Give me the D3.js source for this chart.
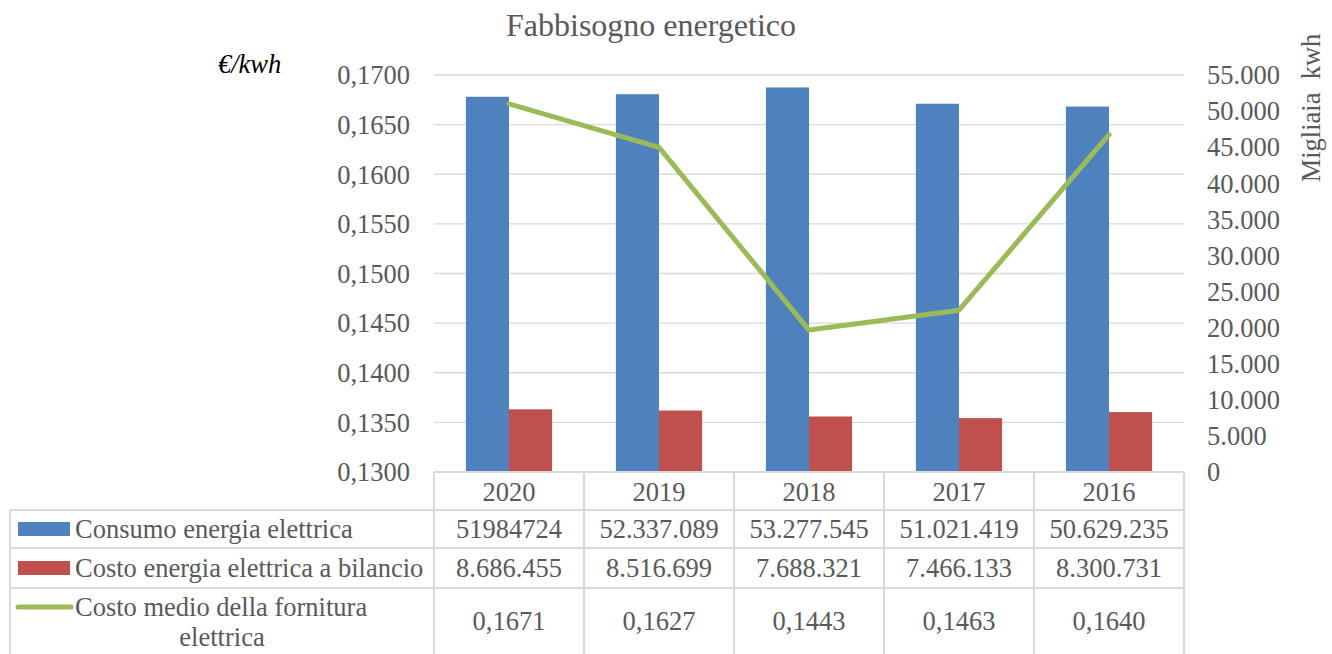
<!DOCTYPE html>
<html>
<head>
<meta charset="utf-8">
<script src="https://cdn.jsdelivr.net/npm/d3@7"></script>
</head>
<body style="margin:0">
<svg id="chart" width="1332" height="654" font-family="Liberation Serif"></svg>
<script>
var years = ["2020", "2019", "2018", "2017", "2016"];
var consumo = [51984724, 52337089, 53277545, 51021419, 50629235];
var costo = [8686455, 8516699, 7688321, 7466133, 8300731];
var costoMedio = [0.1671, 0.1627, 0.1443, 0.1463, 0.1640];
var consumoLabels = ["51984724", "52.337.089", "53.277.545", "51.021.419", "50.629.235"];
var costoLabels = ["8.686.455", "8.516.699", "7.688.321", "7.466.133", "8.300.731"];
var costoMedioLabels = ["0,1671", "0,1627", "0,1443", "0,1463", "0,1640"];
var seriesNames = ["Consumo energia elettrica", "Costo energia elettrica a bilancio", "Costo medio della fornitura elettrica"];
var leftTicks = [0.1300, 0.1350, 0.1400, 0.1450, 0.1500, 0.1550, 0.1600, 0.1650, 0.1700];
var rightTicks = [0, 5000, 10000, 15000, 20000, 25000, 30000, 35000, 40000, 45000, 50000, 55000];

var colorBlue = "#4F81BD";
var colorRed = "#C0504D";
var colorGreen = "#9BBB59";
var gridColor = "#D9D9D9";
var textColor = "#595959";
var fs = 26.5;

var plot = { left: 434, right: 1184, top: 75, bottom: 472 };
var tableRows = [472, 510, 548, 588, 654];
var tableLeft = 10;

var it = d3.formatLocale({ decimal: ",", thousands: ".", grouping: [3], currency: ["€", ""] });
var fmtLeft = it.format(".4f");
var fmtRight = it.format(",.0f");

var svg = d3.select("#chart");

function txt(sel) {
    return sel.attr("font-family", "Liberation Serif").attr("font-size", fs).attr("fill", textColor);
}

var x = d3.scaleBand().domain(years).range([plot.left, plot.right]);
var x1 = d3.scaleBand().domain([0, 1]).range([0, x.bandwidth()]).paddingOuter(0.74);
var yLeft = d3.scaleLinear().domain([0.13, 0.17]).range([plot.bottom, plot.top]);
var yRight = d3.scaleLinear().domain([0, 55000]).range([plot.bottom, plot.top]);

// gridlines
svg.append("g").selectAll("line").data(leftTicks.slice(1)).join("line")
    .attr("x1", plot.left).attr("x2", plot.right)
    .attr("y1", d => yLeft(d)).attr("y2", d => yLeft(d))
    .attr("stroke", gridColor).attr("stroke-width", 1.3);

// left axis labels
txt(svg.append("g").selectAll("text").data(leftTicks).join("text")
    .attr("x", 410).attr("y", d => yLeft(d)).attr("dy", "0.35em")
    .attr("text-anchor", "end"))
    .text(d => fmtLeft(d));

// right axis labels
txt(svg.append("g").selectAll("text").data(rightTicks).join("text")
    .attr("x", 1207).attr("y", d => yRight(d)).attr("dy", "0.35em")
    .attr("text-anchor", "start"))
    .text(d => fmtRight(d));

// bars
var groups = svg.append("g").selectAll("g").data(years).join("g")
    .attr("transform", d => "translate(" + x(d) + ",0)");
groups.append("rect")
    .attr("x", x1(0)).attr("width", x1.bandwidth())
    .attr("y", (d, i) => yRight(consumo[i] / 1000))
    .attr("height", (d, i) => plot.bottom - yRight(consumo[i] / 1000))
    .attr("fill", colorBlue);
groups.append("rect")
    .attr("x", x1(1)).attr("width", x1.bandwidth())
    .attr("y", (d, i) => yRight(costo[i] / 1000))
    .attr("height", (d, i) => plot.bottom - yRight(costo[i] / 1000))
    .attr("fill", colorRed);

// line
var line = d3.line()
    .x((d, i) => x(years[i]) + x.bandwidth() / 2)
    .y(d => yLeft(d));
svg.append("path").datum(costoMedio)
    .attr("d", line).attr("fill", "none")
    .attr("stroke", colorGreen).attr("stroke-width", 5)
    .attr("stroke-linejoin", "round").attr("stroke-linecap", "round");

// data table
var tg = svg.append("g");
tg.append("line").attr("x1", plot.left).attr("x2", plot.right)
    .attr("y1", tableRows[0]).attr("y2", tableRows[0]).attr("stroke", gridColor).attr("stroke-width", 2);
tableRows.slice(1, 4).forEach(function (ry) {
    tg.append("line").attr("x1", tableLeft).attr("x2", plot.right)
        .attr("y1", ry).attr("y2", ry).attr("stroke", gridColor).attr("stroke-width", 2);
});
years.forEach(function (yr) {
    tg.append("line").attr("x1", x(yr)).attr("x2", x(yr))
        .attr("y1", tableRows[0]).attr("y2", 654).attr("stroke", gridColor).attr("stroke-width", 2);
});
tg.append("line").attr("x1", plot.right).attr("x2", plot.right)
    .attr("y1", tableRows[0]).attr("y2", 654).attr("stroke", gridColor).attr("stroke-width", 2);
tg.append("line").attr("x1", tableLeft).attr("x2", tableLeft)
    .attr("y1", tableRows[1]).attr("y2", 654).attr("stroke", gridColor).attr("stroke-width", 2);

var cellRows = [
    { labels: years, y: 492 },
    { labels: consumoLabels, y: 529 },
    { labels: costoLabels, y: 568 },
    { labels: costoMedioLabels, y: 621 }
];
cellRows.forEach(function (r) {
    txt(tg.append("g").selectAll("text").data(r.labels).join("text")
        .attr("x", (d, i) => x(years[i]) + x.bandwidth() / 2)
        .attr("y", r.y).attr("dy", "0.35em")
        .attr("text-anchor", "middle"))
        .text(d => d);
});

// legend keys in table
tg.append("rect").attr("x", 18).attr("y", 522).attr("width", 52).attr("height", 14).attr("fill", colorBlue);
tg.append("rect").attr("x", 18).attr("y", 561).attr("width", 52).attr("height", 14).attr("fill", colorRed);
tg.append("line").attr("x1", 18).attr("x2", 71).attr("y1", 607).attr("y2", 607)
    .attr("stroke", colorGreen).attr("stroke-width", 5).attr("stroke-linecap", "round");
txt(tg.append("text").attr("x", 75).attr("y", 529).attr("dy", "0.35em")).text(seriesNames[0]);
txt(tg.append("text").attr("x", 75).attr("y", 568).attr("dy", "0.35em")).text(seriesNames[1]);
txt(tg.append("text").attr("x", 75).attr("y", 607).attr("dy", "0.35em")).text("Costo medio della fornitura");
txt(tg.append("text").attr("x", 222).attr("y", 637).attr("dy", "0.35em").attr("text-anchor", "middle")).text("elettrica");

// titles
txt(svg.append("text").attr("x", 651).attr("y", 25).attr("dy", "0.35em")
    .attr("text-anchor", "middle")).attr("font-size", 32).text("Fabbisogno energetico");
txt(svg.append("text").attr("x", 218).attr("y", 64).attr("dy", "0.35em"))
    .attr("font-style", "italic").attr("fill", "#000").text("€/kwh");
txt(svg.append("text").attr("transform", "translate(1311,108) rotate(-90)").attr("dy", "0.35em")
    .attr("text-anchor", "middle")).attr("xml:space", "preserve")
    .text("Migliaia  kwh");
</script>
</body>
</html>
